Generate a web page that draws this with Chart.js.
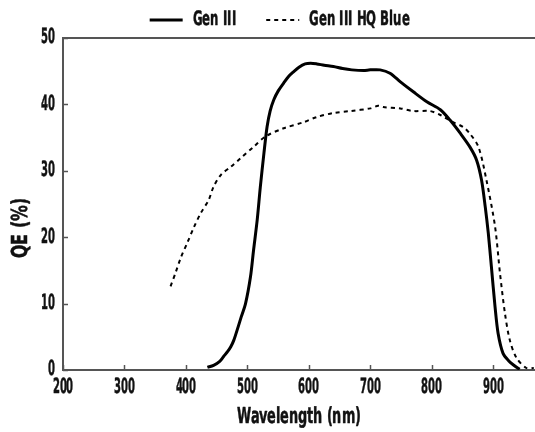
<!DOCTYPE html>
<html>
<head>
<meta charset="utf-8">
<script src="https://cdn.jsdelivr.net/npm/chart.js@4/dist/chart.umd.min.js"></script>
<style>
  html, body { margin: 0; padding: 0; background: #fff; }
  #wrap { width: 535px; height: 432px; }
  @font-face {
    font-family: "NarrowFace";
    font-weight: bold;
    src: local("Liberation Sans Narrow Bold"), local("LiberationSansNarrow-Bold"),
         local("DejaVu Sans Condensed Bold"), local("DejaVuSansCondensed-Bold");
  }
</style>
</head>
<body>
<div id="wrap"><canvas id="qeChart" width="535" height="432"></canvas></div>
<script>
// wavelength (nm) and QE (%)
const genIIIWave = [435, 445, 455, 461, 468, 473, 478, 485, 490, 497, 505, 510, 516, 521, 527, 532, 537, 543, 550, 559, 567, 575, 584, 594, 603, 613, 625, 640, 655, 670, 689, 700, 716, 732, 749, 770, 792, 814, 830, 846, 862, 873, 881, 887, 892, 897, 903, 908, 916, 925, 933, 943];
const genIIIQE = [0.4, 0.7, 1.3, 2, 2.8, 3.5, 4.5, 6.5, 8, 10, 14, 18, 22.6, 27.5, 32.7, 36.6, 39, 40.7, 42, 43.2, 44.2, 44.9, 45.6, 46.1, 46.2, 46.1, 45.9, 45.7, 45.4, 45.2, 45.1, 45.2, 45.2, 44.7, 43.4, 41.9, 40.4, 39.2, 37.6, 35.7, 33.6, 31.6, 28.6, 24.6, 20.6, 15.6, 9.5, 5.5, 2.5, 1.4, 0.75, 0.1];

const hqBlueWave = [375, 383, 392, 402, 413, 424, 437, 445, 457, 473, 489, 510, 530, 559, 591, 613, 640, 668, 700, 713, 721, 749, 770, 797, 814, 833, 851, 862, 876, 889, 903, 911, 919, 927, 938, 954, 966];
const hqBlueQE = [12.6, 14.6, 17, 19.1, 21.5, 23.6, 25.6, 27.6, 29.4, 30.6, 31.9, 33.6, 35.2, 36.4, 37.3, 38.1, 38.7, 39.0, 39.4, 39.8, 39.6, 39.4, 39.0, 39.0, 38.4, 37.4, 36.6, 35.6, 33.6, 28.6, 21.6, 14.6, 8.6, 4.5, 1.8, 0.3, 0.3];

const seriesNames = ["Gen III", "Gen III HQ Blue"];
const xTicks = [200, 300, 400, 500, 600, 700, 800, 900];
const yTicks = [0, 10, 20, 30, 40, 50];
const yTitle = "QE (%)";

const FONT = '"NarrowFace", "Liberation Sans Narrow", "DejaVu Sans Condensed", sans-serif';
const AXIS = "#555";

const toPoints = (xs, ys) => xs.map((x, i) => ({ x: x, y: ys[i] }));

// the reference face is a very narrow condensed one:
// squeeze text horizontally and thicken it a little with a thin stroke
function squeezeFor(text) {
  const t = String(text);
  if (/^[\d.\-]+$/.test(t)) return 0.53;
  if (t === yTitle) return 0.8;
  return 0.65;
}
function narrowText(ctx) {
  const rawFill = ctx.fillText.bind(ctx);
  const rawStroke = ctx.strokeText.bind(ctx);
  const rawMeasure = ctx.measureText.bind(ctx);
  ctx.fillText = function (text, x, y) {
    const s = squeezeFor(text);
    this.save();
    this.translate(x, y);
    this.scale(s, 1);
    rawFill(text, 0, 0);
    this.setLineDash([]);
    this.strokeStyle = this.fillStyle;
    this.lineWidth = 0.5;
    this.lineJoin = "round";
    rawStroke(text, 0, 0);
    this.restore();
  };
  ctx.measureText = function (text) {
    const m = rawMeasure(text);
    return {
      width: m.width * squeezeFor(text),
      actualBoundingBoxAscent: m.actualBoundingBoxAscent,
      actualBoundingBoxDescent: m.actualBoundingBoxDescent,
    };
  };
}

// legend takes the band above the plot, nudged right like the reference
const legendBox = {
  id: "legendBox",
  beforeInit(chart) {
    const fit = chart.legend.fit;
    chart.legend.fit = function () {
      fit.bind(chart.legend)();
      this.height = 58;
    };
  },
  afterLayout(chart) {
    chart.legend.left += 12;
    chart.legend.right += 12;
  },
};

// top frame line, inward ticks, y title
const frame = {
  id: "frame",
  afterDraw(chart) {
    const { ctx, chartArea, scales } = chart;
    ctx.save();
    ctx.strokeStyle = AXIS;
    ctx.lineWidth = 2;
    ctx.beginPath();
    ctx.moveTo(chartArea.left - 1, chartArea.top);
    ctx.lineTo(chartArea.right, chartArea.top);
    ctx.stroke();

    ctx.lineWidth = 1.5;
    xTicks.forEach((t) => {
      const px = Math.round(scales.x.getPixelForValue(t)) + 0.5;
      ctx.beginPath();
      ctx.moveTo(px, chartArea.bottom);
      ctx.lineTo(px, chartArea.bottom - 5);
      ctx.stroke();
    });
    yTicks.forEach((t) => {
      const py = Math.round(scales.y.getPixelForValue(t)) + 0.5;
      ctx.beginPath();
      ctx.moveTo(chartArea.left, py);
      ctx.lineTo(chartArea.left + 5, py);
      ctx.stroke();
    });

    ctx.fillStyle = "#111";
    ctx.font = "bold 22px " + FONT;
    ctx.textAlign = "center";
    ctx.textBaseline = "middle";
    ctx.translate(21, 228);
    ctx.rotate(-Math.PI / 2);
    ctx.fillText(yTitle, 0, 0);
    ctx.restore();
  },
};

function drawChart() {
  const canvas = document.getElementById("qeChart");
  narrowText(canvas.getContext("2d"));

  new Chart(canvas, {
    type: "line",
    data: {
      datasets: [
        {
          label: seriesNames[0],
          data: toPoints(genIIIWave, genIIIQE),
          borderColor: "#000",
          borderWidth: 3,
          pointRadius: 0,
          tension: 0.3,
          fill: false,
        },
        {
          label: seriesNames[1],
          data: toPoints(hqBlueWave, hqBlueQE),
          borderColor: "#000",
          borderWidth: 2,
          borderDash: [4, 4],
          pointRadius: 0,
          tension: 0.3,
          fill: false,
        },
      ],
    },
    options: {
      responsive: false,
      animation: false,
      layout: { padding: { top: -20, left: 0, right: 0, bottom: 0 } },
      plugins: {
        tooltip: { enabled: false },
        legend: {
          display: true,
          position: "top",
          labels: {
            color: "#111",
            font: { family: FONT, size: 20, weight: "bold" },
            usePointStyle: true,
            pointStyle: "line",
            pointStyleWidth: 33,
            padding: 30,
            generateLabels: (chart) => {
              const items = Chart.defaults.plugins.legend.labels.generateLabels(chart);
              items.forEach((it) => {
                const ds = chart.data.datasets[it.datasetIndex];
                it.lineDash = ds.borderDash || [];
                it.lineWidth = ds.borderWidth;
              });
              return items;
            },
          },
        },
      },
      scales: {
        x: {
          type: "linear",
          min: 200,
          max: 968,
          afterBuildTicks: (scale) => {
            scale.ticks = xTicks.map((v) => ({ value: v }));
          },
          afterFit: (scale) => {
            scale.height = 62;
          },
          grid: { display: false, drawTicks: false },
          border: { display: true, color: AXIS, width: 2 },
          ticks: {
            color: "#111",
            padding: 5,
            maxRotation: 0,
            font: { family: FONT, size: 21, weight: "bold" },
          },
          title: {
            display: true,
            text: "Wavelength (nm)",
            color: "#111",
            font: { family: FONT, size: 22, weight: "bold" },
            padding: { top: 0, bottom: 2 },
          },
        },
        y: {
          min: 0,
          max: 50,
          afterBuildTicks: (scale) => {
            scale.ticks = yTicks.map((v) => ({ value: v }));
          },
          afterFit: (scale) => {
            scale.width = 63;
          },
          grid: { display: false, drawTicks: false },
          border: { display: true, color: AXIS, width: 2 },
          ticks: {
            color: "#111",
            padding: 8,
            font: { family: FONT, size: 21, weight: "bold" },
          },
          title: { display: false },
        },
      },
    },
    plugins: [legendBox, frame],
  });
}

document.fonts.load('bold 16px "NarrowFace"').then(drawChart, drawChart);
</script>
</body>
</html>
